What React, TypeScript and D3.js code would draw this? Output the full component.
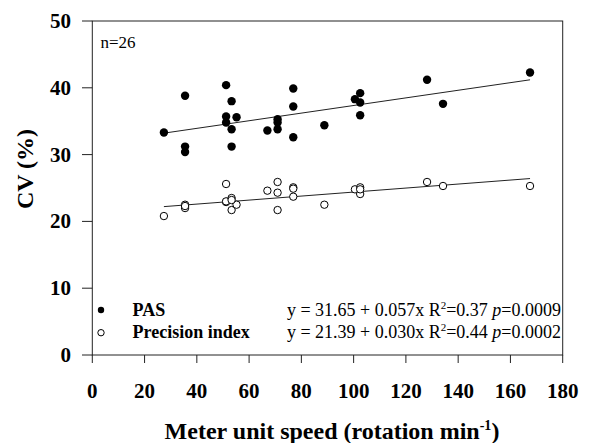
import React from "react";
import * as d3 from "d3";

const pasX = [27.4, 35.5, 35.5, 35.5, 51.2, 51.2, 51.2, 53.3, 53.3, 53.3, 55.2, 67.0, 70.9, 70.9, 70.9, 76.9, 76.9, 76.9, 88.8, 100.5, 102.5, 102.5, 102.5, 128.1, 134.2, 167.5];
const pasY = [33.3, 38.8, 31.2, 30.4, 40.4, 35.7, 34.8, 38.0, 33.8, 31.2, 35.6, 33.6, 35.3, 34.8, 33.8, 39.9, 37.2, 32.6, 34.4, 38.3, 39.2, 37.8, 35.9, 41.2, 37.6, 42.3];

const precX = [27.4, 35.5, 35.5, 35.5, 51.2, 51.2, 51.2, 53.3, 53.3, 55.2, 67.0, 70.9, 70.9, 70.9, 76.9, 76.9, 76.9, 88.8, 100.5, 102.5, 102.5, 102.5, 128.1, 134.2, 167.5, 53.3];
const precY = [20.8, 22.5, 22.0, 22.3, 25.6, 22.9, 23.0, 23.5, 21.7, 22.5, 24.6, 25.9, 24.3, 21.7, 25.1, 23.7, 24.9, 22.5, 24.8, 25.1, 24.1, 24.8, 25.9, 25.3, 25.3, 23.2];

const pasFit = { a: 31.65, b: 0.057 };
const precFit = { a: 21.39, b: 0.03 };

const xTicks = [0, 20, 40, 60, 80, 100, 120, 140, 160, 180];
const yTicks = [0, 10, 20, 30, 40, 50];

const W = 590;
const H = 443;
const serif = "'Liberation Serif', 'Times New Roman', serif";

export default function App() {
  const x = d3.scaleLinear().domain([0, 180]).range([92.3, 562.7]);
  const y = d3.scaleLinear().domain([0, 50]).range([355, 21]);

  const xMin = d3.min(pasX) as number;
  const xMax = d3.max(pasX) as number;
  const fitLine = (f: { a: number; b: number }) =>
    d3.line<number>().x((v) => x(v)).y((v) => y(f.a + f.b * v))([xMin, xMax]) || "";

  return (
    <svg width={W} height={H} style={{ position: "absolute", left: 0, top: 0 }}>
      <rect width={W} height={H} fill="white" />
      {/* frame */}
      <rect x={x(0)} y={y(50)} width={x(180) - x(0)} height={y(0) - y(50)} fill="none" stroke="#222" strokeWidth={1} />
      {/* y ticks */}
      {yTicks.map((t) => (
        <g key={"y" + t}>
          <line x1={82} x2={x(0)} y1={y(t)} y2={y(t)} stroke="#222" />
          <text x={71} y={y(t) + 7} textAnchor="end" fontFamily={serif} fontWeight="bold" fontSize={21}>
            {t}
          </text>
        </g>
      ))}
      {/* x ticks */}
      {xTicks.map((t) => (
        <g key={"x" + t}>
          <line x1={x(t)} x2={x(t)} y1={y(0)} y2={363} stroke="#222" />
          <text x={x(t)} y={398} textAnchor="middle" fontFamily={serif} fontWeight="bold" fontSize={21}>
            {t}
          </text>
        </g>
      ))}
      {/* fits */}
      <path d={fitLine(pasFit)} stroke="#222" strokeWidth={1} fill="none" />
      <path d={fitLine(precFit)} stroke="#222" strokeWidth={1} fill="none" />
      {/* points */}
      {pasX.map((v, i) => (
        <circle key={"p" + i} cx={x(v)} cy={y(pasY[i])} r={4.2} fill="black" />
      ))}
      {precX.map((v, i) => (
        <circle key={"o" + i} cx={x(v)} cy={y(precY[i])} r={3.7} fill="white" stroke="black" strokeWidth={1} />
      ))}
      {/* n label */}
      <text x={100.5} y={48} fontFamily={serif} fontSize={17}>
        n=26
      </text>
      {/* legend */}
      <circle cx={101} cy={310} r={3.2} fill="black" />
      <circle cx={101} cy={332.7} r={3.2} fill="white" stroke="black" />
      <text x={132.5} y={315.5} fontFamily={serif} fontWeight="bold" fontSize={18}>PAS</text>
      <text x={132.5} y={338} fontFamily={serif} fontWeight="bold" fontSize={18}>Precision index</text>
      <text x={561} y={315.5} textAnchor="end" fontFamily={serif} fontSize={18}>
        y = 31.65 + 0.057x R<tspan dy={-7} fontSize={11}>2</tspan>
        <tspan dy={7}>=0.37 </tspan>
        <tspan fontStyle="italic">p</tspan>=0.0009
      </text>
      <text x={561} y={338} textAnchor="end" fontFamily={serif} fontSize={18}>
        y = 21.39 + 0.030x R<tspan dy={-7} fontSize={11}>2</tspan>
        <tspan dy={7}>=0.44 </tspan>
        <tspan fontStyle="italic">p</tspan>=0.0002
      </text>
      {/* axis titles */}
      <text x={332} y={439} textAnchor="middle" fontFamily={serif} fontWeight="bold" fontSize={24}>
        Meter unit speed (rotation min<tspan dy={-9} fontSize={14}>-1</tspan>
        <tspan dy={9}>)</tspan>
      </text>
      <text transform="translate(33,169) rotate(-90)" textAnchor="middle" fontFamily={serif} fontWeight="bold" fontSize={24}>
        CV (%)
      </text>
    </svg>
  );
}
